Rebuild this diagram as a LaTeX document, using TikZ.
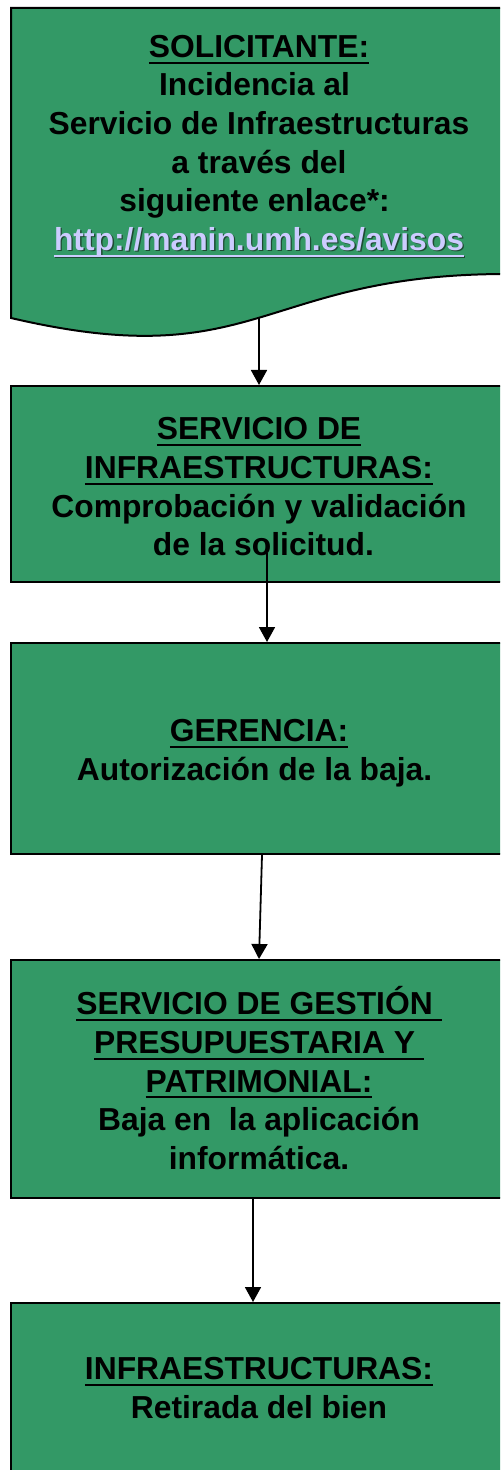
\documentclass[tikz,border=0pt]{standalone}
\usepackage{fontspec}
\setmainfont{Liberation Sans}
\usetikzlibrary{arrows.meta}
\definecolor{boxgreen}{HTML}{339966}
\definecolor{linkc}{HTML}{CCCCFF}
\definecolor{shadc}{HTML}{1E4A34}
\newsavebox\ulbox
\newcommand\ulx[1]{\sbox\ulbox{#1}\rlap{\rule[-3.2pt]{\wd\ulbox}{1pt}}\usebox\ulbox}
\newcommand\linkx[1]{\rlap{\kern0.7pt\raisebox{-0.7pt}{\color{shadc}\ulx{#1}}}{\color{linkc}\ulx{#1}}}
\tikzset{
  box/.style={draw=black, line width=1pt, fill=boxgreen, minimum width=248pt, inner sep=0pt},
  txt/.style={font=\bfseries\fontsize{15.9}{19.3}\selectfont, align=center, inner sep=0pt, anchor=north, text=black},
  arr/.style={draw=black, line width=0.9pt, -{Triangle[width=8pt,length=7.5pt]}}
}
\begin{document}
\begin{tikzpicture}[x=0.5pt,y=-0.5pt]
\useasboundingbox (0,0) rectangle (500,1470);
\clip (0,0) rectangle (500,1470);
\fill[white] (0,0) rectangle (500,1470);
% box 1: document shape
\draw[line width=1pt, fill=boxgreen] (11,8) -- (507,8) -- (507,274)
  .. controls (259,274) and (259,376) .. (11,318) -- cycle;
\coordinate (s1) at (259,318);
\node[txt] (t1) at (259,26.9) {\rule{0pt}{15pt}\ulx{SOLICITANTE:}\\
  Incidencia al\ \null\\
  Servicio de Infraestructuras\\
  a través del\\
  siguiente enlace*:\ \null\\
  \linkx{http://manin.umh.es/avisos}};
% boxes
\node[box, minimum height=98pt] (b2) at (259,484) {};
\node[box, minimum height=105.5pt] (b3) at (259,748.5) {};
\node[box, minimum height=119pt] (b4) at (259,1079) {};
\node[box, minimum height=98.5pt] (b5) at (259,1401.5) {};
\node[txt] (t2) at (259,409.4) {\rule{0pt}{15pt}\ulx{SERVICIO DE}\\
  \ulx{INFRAESTRUCTURAS:}\\
  Comprobación y validación\\
  \hspace*{4.4pt}de la solicitud.};
\node[txt] (t3) at (259,711.4) {\rule{0pt}{15pt}\ulx{GERENCIA:}\\
  Autorización de la baja.\ \null};
\node[txt] (t4) at (259,984.4) {\rule{0pt}{15pt}\ulx{SERVICIO DE GESTIÓN\ }\\
  \ulx{PRESUPUESTARIA Y\ }\\
  \ulx{PATRIMONIAL:}\\
  Baja en\ \ la aplicación\\
  informática.};
\node[txt] (t5) at (259,1349.4) {\rule{0pt}{15pt}\ulx{INFRAESTRUCTURAS:}\\
  Retirada del bien};
% connectors
\coordinate (s2) at (267,553);
\draw[arr] (s1) -- (b2.north);
\draw[arr] (s2) -- (s2 |- b3.north);
\draw[arr] ([xshift=1.5pt]b3.south) -- (b4.north);
\draw[arr] ([xshift=-3pt]b4.south) -- ([xshift=-3pt]b5.north);
\end{tikzpicture}
\end{document}
